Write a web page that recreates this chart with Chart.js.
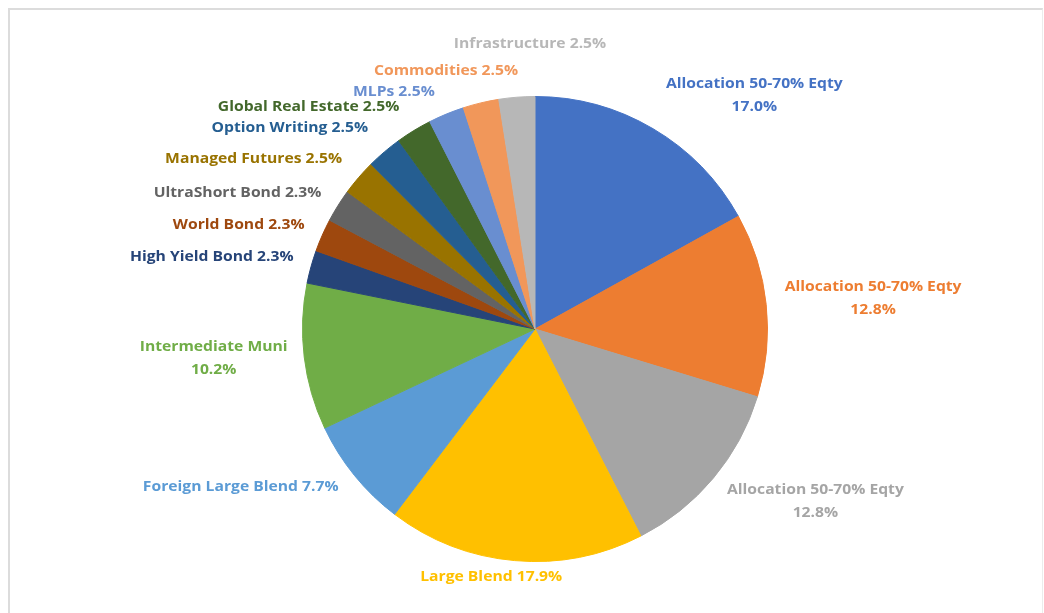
<!DOCTYPE html>
<html>
  <head>
    <meta charset="utf-8">
    <title>Portfolio Allocation</title>
    <style>
      html, body {
        margin: 0;
        padding: 0;
        background: #ffffff;
      }
      #frame {
        position: absolute;
        left: 8px;
        top: 8px;
        width: 1032px;
        height: 640px;
        border-top: 2px solid #dcdcdc;
        border-left: 2px solid #dcdcdc;
        border-right: 1px solid #ececec;
      }
      #chartBox {
        position: absolute;
        left: 0;
        top: 0;
        width: 1044px;
        height: 613px;
      }
    </style>
    <script src="https://cdn.jsdelivr.net/npm/chart.js@4"></script>
  </head>
  <body>
    <div id="frame"></div>
    <div id="chartBox">
      <canvas id="myChart"></canvas>
    </div>

    <script>
// Fund categories, clockwise from 12 o'clock
const categories = [
  "Allocation 50-70% Eqty",
  "Allocation 50-70% Eqty",
  "Allocation 50-70% Eqty",
  "Large Blend",
  "Foreign Large Blend",
  "Intermediate Muni",
  "High Yield Bond",
  "World Bond",
  "UltraShort Bond",
  "Managed Futures",
  "Option Writing",
  "Global Real Estate",
  "MLPs",
  "Commodities",
  "Infrastructure"
];

// Weight of each category in percent
const weights = [17.0, 12.8, 12.8, 17.9, 7.7, 10.2, 2.3, 2.3, 2.3, 2.5, 2.5, 2.5, 2.5, 2.5, 2.5];

// Office palette: accents, then darker, then lighter shades
const sliceColors = [
  "#4472C4", "#ED7D31", "#A5A5A5", "#FFC000", "#5B9BD5", "#70AD47",
  "#264478", "#9E480E", "#636363", "#997300", "#255E91", "#43682B",
  "#698ED0", "#F1975A", "#B7B7B7"
];

// Labels that put the percentage on a second line
const twoLine = [true, true, true, false, false, true, false, false, false, false, false, false, false, false, false];

// Where each label sits: angle clockwise from top (deg) and distance in pie radii
const labelAngle = [43.2, 84.9, 121.6, 190.0, 241.8, 264.7, 282.5, 289.3, 294.5, 301.2, 309.3, 314.4, 329.2, 341.0, 359.0];
const labelDist  = [1.378, 1.46, 1.416, 1.085, 1.436, 1.388, 1.424, 1.35, 1.406, 1.415, 1.363, 1.363, 1.185, 1.175, 1.227];

// Draw the outside data labels (slightly widened text)
const outsideLabels = {
  id: 'outsideLabels',
  afterDraw(chart) {
    const ctx = chart.ctx;
    const arc = chart.getDatasetMeta(0).data[0];
    const cx = arc.x, cy = arc.y, r = arc.outerRadius;
    for (let i = 0; i < categories.length; i++) {
      const a = labelAngle[i] * Math.PI / 180;
      const x = cx + labelDist[i] * r * Math.sin(a);
      const y = cy - labelDist[i] * r * Math.cos(a);
      const pct = weights[i].toFixed(1) + '%';
      ctx.save();
      ctx.translate(x, y);
      ctx.scale(1.12, 1);
      ctx.font = 'bold 14px "Open Sans", sans-serif';
      ctx.textAlign = 'center';
      ctx.textBaseline = 'middle';
      ctx.fillStyle = sliceColors[i];
      if (twoLine[i]) {
        ctx.fillText(categories[i], 0, -11.5);
        ctx.fillText(pct, 0, 11.5);
      } else {
        ctx.fillText(categories[i] + ' ' + pct, 0, 0);
      }
      ctx.restore();
    }
  }
};

var ctx = document.getElementById('myChart').getContext('2d');
var myChart = new Chart(ctx, {
  type: 'pie',
  data: {
    labels: categories,
    datasets: [{
      data: weights,
      backgroundColor: sliceColors,
      borderColor: sliceColors,
      borderWidth: 1
    }]
  },
  plugins: [outsideLabels],
  options: {
    responsive: true,
    maintainAspectRatio: false,
    animation: false,
    layout: {
      padding: { left: 302, right: 276, top: 96, bottom: 51 }
    },
    plugins: {
      legend: { display: false },
      tooltip: { enabled: false }
    }
  }
});
    </script>
  </body>
</html>
